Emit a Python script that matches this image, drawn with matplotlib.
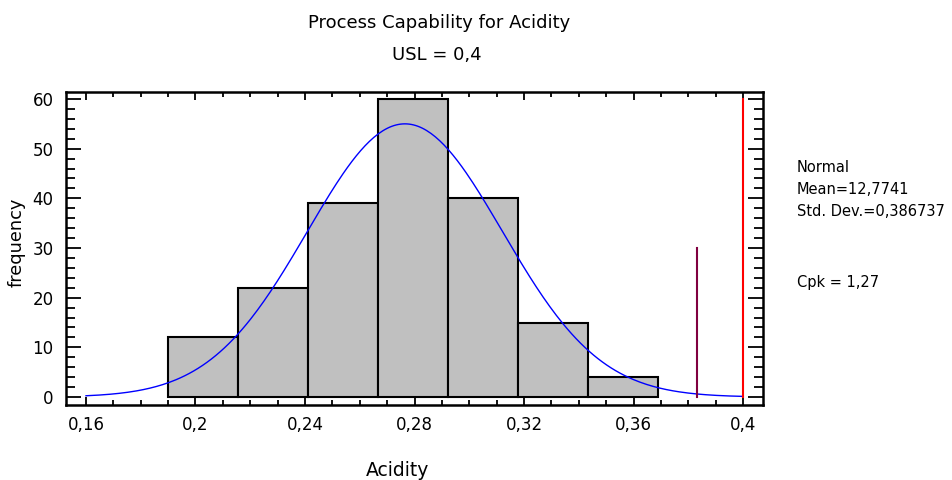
import matplotlib
matplotlib.use("Agg")
import matplotlib.pyplot as plt
from matplotlib.ticker import MultipleLocator, FuncFormatter
import numpy as np

# Histogram of acidity measurements
bin_edges = [0.190, 0.2156, 0.2411, 0.2667, 0.2922, 0.3178, 0.3433, 0.3689]
frequencies = [12, 22, 39, 60, 40, 15, 4]

# Fitted normal and spec limits
fit_mean = 0.2765
fit_sd = 0.0356
usl = 0.4
sigma3_height = 30
usl_height = 60

x_ticks = [0.16, 0.2, 0.24, 0.28, 0.32, 0.36, 0.4]
y_ticks = [0, 10, 20, 30, 40, 50, 60]

stats_lines = ["Normal", "Mean=12,7741", "Std. Dev.=0,386737"]
cpk_text = "Cpk = 1,27"

plt.rcParams['font.family'] = ['DejaVu Sans']

fig = plt.figure(figsize=(9.52, 4.8), dpi=100)
ax = fig.add_axes([66 / 952, 1 - 405 / 480, 697 / 952, 313 / 480])

# bars
lefts = np.array(bin_edges[:-1])
widths = np.diff(bin_edges)
ax.bar(lefts, frequencies, width=widths, align='edge', color='#C0C0C0',
       edgecolor='black', linewidth=1.5, zorder=2)

# fitted normal curve scaled to counts
xs = np.linspace(0.16, 0.4, 300)
scale = sum(frequencies) * np.mean(widths)
pdf = np.exp(-0.5 * ((xs - fit_mean) / fit_sd) ** 2) / (fit_sd * np.sqrt(2 * np.pi))
ax.plot(xs, pdf * scale, color='#0000FF', linewidth=1.0, zorder=3)

# 3-sigma and USL lines
ax.plot([fit_mean + 3 * fit_sd] * 2, [0, sigma3_height], color='#800040',
        linewidth=1.5, zorder=3)
ax.plot([usl, usl], [0, usl_height], color='#FF0000', linewidth=1.5, zorder=3)

ax.set_xlim(0.1527, 0.4073)
ax.set_ylim(-1.6, 61.4)

ax.set_xticks(x_ticks)
ax.set_yticks(y_ticks)
ax.xaxis.set_minor_locator(MultipleLocator(0.01))
ax.yaxis.set_minor_locator(MultipleLocator(2))
ax.xaxis.set_major_formatter(FuncFormatter(lambda v, p: f"{v:g}".replace('.', ',')))

ax.tick_params(axis='both', which='both', direction='in', top=True, right=True,
               width=1.3, labelsize=12, colors='black')
ax.tick_params(axis='y', which='major', length=11, pad=9)
ax.tick_params(axis='y', which='minor', length=6.5)
ax.tick_params(axis='x', which='major', length=6, pad=8)
ax.tick_params(axis='x', which='minor', length=3.5)

for sp in ax.spines.values():
    sp.set_linewidth(1.8)

# axis titles
fig.text(398 / 952, 1 - 470 / 480, "Acidity", ha='center', va='center',
         fontsize=13.5)
fig.text(17 / 952, 1 - 242 / 480, "frequency", ha='center', va='center',
         rotation=90, fontsize=12.8)

fig.text(439 / 952, 1 - 23 / 480, "Process Capability for Acidity",
         ha='center', va='center', fontsize=13)
fig.text(437 / 952, 1 - 55 / 480, "USL = 0,4", ha='center', va='center',
         fontsize=13)

for i, line in enumerate(stats_lines):
    fig.text(797 / 952, 1 - (168 + 22 * i) / 480, line, ha='left',
             va='center', fontsize=10.5)
fig.text(797 / 952, 1 - 282 / 480, cpk_text, ha='left', va='center',
         fontsize=10.5)

fig.savefig("out.png", dpi=100)
